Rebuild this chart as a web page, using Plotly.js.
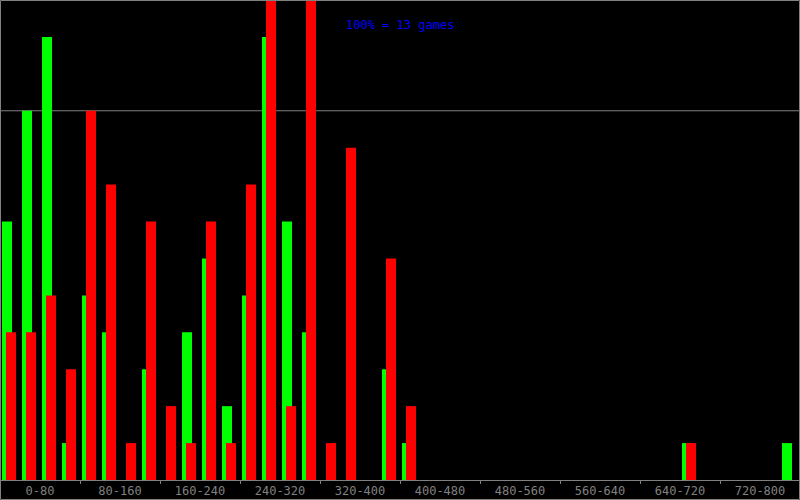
<!DOCTYPE html>
<html>
<head>
<meta charset="utf-8">
<script src="https://cdn.plot.ly/plotly-3.0.1.min.js"></script>
<style>html,body{margin:0;padding:0;background:#000;}#chart{width:800px;height:500px;}</style>
</head>
<body>
<div id="chart"></div>
<script>
// Bin starts (20-unit bins from 0 to 800)
var binStarts = [0,20,40,60,80,100,120,140,160,180,200,220,240,260,280,300,320,340,360,380,400,420,440,460,480,500,520,540,560,580,600,620,640,660,680,700,720,740,760,780];
// Green series (games per bin)
var greenVals = [7,10,12,1,5,4,0,3,0,4, 6,2,5,12,7,4,0,0,0,3, 1,0,0,0,0,0,0,0,0,0, 0,0,0,0,1,0,0,0,0,1];
// Red series (games per bin)
var redVals   = [4,4,5,3,10,8,1,7,2,1, 7,1,8,13,2,13,1,9,0,6, 2,0,0,0,0,0,0,0,0,0, 0,0,0,0,1,0,0,0,0,0];
// Axis labels
var tickCenters = [40,120,200,280,360,440,520,600,680,760];
var tickLabels = ["0-80","80-160","160-240","240-320","320-400","400-480","480-560","560-640","640-720","720-800"];
var refLineValue = 10;
var maxGames = 13;
var noteText = "100% = 13 games";

var gray = '#808080';
var font = 'DejaVu Sans Mono, monospace';

var traces = [
  {type:'bar', x:binStarts, y:greenVals, width:10, offset:2,
   marker:{color:'#00ff00', line:{width:0}}, hoverinfo:'skip'},
  {type:'bar', x:binStarts, y:redVals, width:10, offset:6,
   marker:{color:'#ff0000', line:{width:0}}, hoverinfo:'skip'}
];

var H = 480; // plot height in px
var layout = {
  width:800, height:500,
  margin:{l:0, r:0, t:0, b:20, pad:0},
  paper_bgcolor:'#000', plot_bgcolor:'#000',
  barmode:'overlay', showlegend:false,
  xaxis:{range:[0,800], showgrid:false, zeroline:false,
    showline:true, linecolor:gray, linewidth:1,
    tickmode:'array', tickvals:tickCenters, ticktext:tickLabels,
    ticks:'', tickfont:{family:font, size:12, color:gray},
    minor:{tick0:0, dtick:80, ticks:'outside', ticklen:3, tickcolor:gray, tickwidth:1, showgrid:false},
    fixedrange:true},
  yaxis:{range:[0,maxGames], visible:false, showgrid:false, zeroline:false, fixedrange:true},
  shapes:[
    {type:'line', xref:'paper', yref:'y', x0:0, x1:1, y0:refLineValue, y1:refLineValue,
     line:{color:gray, width:1}, layer:'below'},
    {type:'rect', xref:'paper', yref:'paper', x0:0.5/800, x1:799.5/800, y0:-19.5/H, y1:1-0.5/H,
     line:{color:gray, width:1}, fillcolor:'rgba(0,0,0,0)'}
  ],
  annotations:[
    {text:noteText, xref:'paper', yref:'paper', x:0.5, y:1-25/H, xanchor:'center', yanchor:'middle',
     showarrow:false, font:{family:font, size:12, color:'#0000ff'}}
  ]
};

Plotly.newPlot('chart', traces, layout, {displayModeBar:false, staticPlot:true});
</script>
</body>
</html>
